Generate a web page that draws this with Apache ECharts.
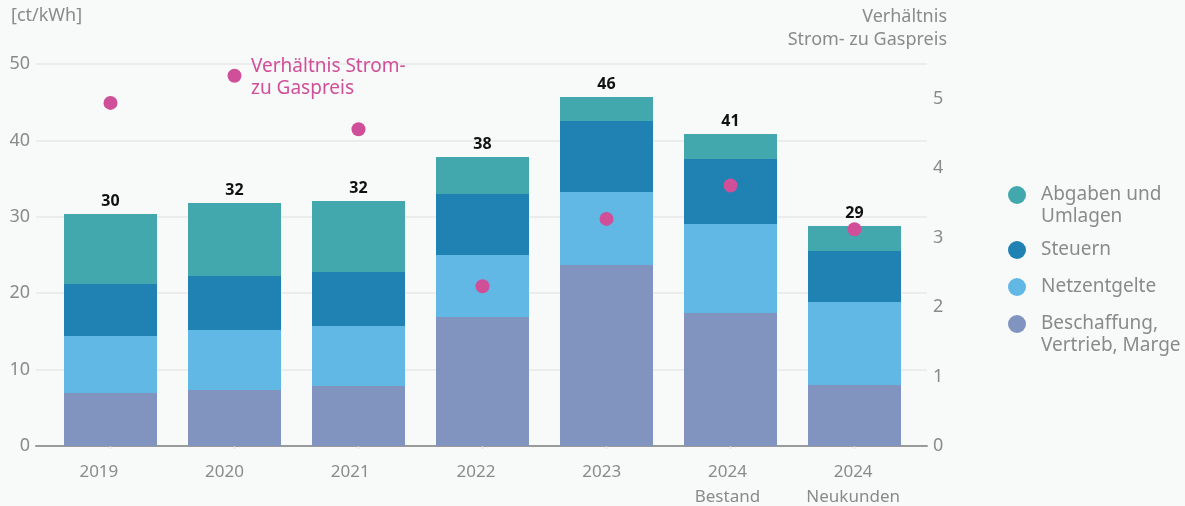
<!DOCTYPE html>
<html>
<head>
<meta charset="utf-8">
<script src="https://cdn.jsdelivr.net/npm/echarts@6/dist/echarts.min.js"></script>
<style>
  html, body { margin: 0; padding: 0; background: #f8fafa; }
  #chart { width: 1185px; height: 506px; }
</style>
</head>
<body>
<div id="chart"></div>
<script>
const categories = ['2019', '2020', '2021', '2022', '2023', '2024\nBestand', '2024\nNeukunden']

// ct/kWh, Stapel von unten nach oben
const beschaffung = [6.94, 7.33, 7.85, 16.88, 23.69, 17.41, 7.98]
const netzentgelte = [7.46, 7.85, 7.85, 8.12, 9.56, 11.65, 10.87]
const steuern = [6.8, 7.07, 7.07, 7.98, 9.29, 8.51, 6.67]
const abgaben = [9.17, 9.55, 9.3, 4.85, 3.14, 3.27, 3.28]

// Verhältnis Strom- zu Gaspreis (rechte Achse)
const verhaeltnis = [4.94, 5.33, 4.56, 2.3, 3.27, 3.75, 3.12]

const leftTicks = { min: 0, max: 50, interval: 10 }
const rightTicks = { min: 0, max: 5.5, interval: 1 }

const totals = categories.map((_, i) => beschaffung[i] + netzentgelte[i] + steuern[i] + abgaben[i])

const font = 'Noto Sans'
const gray = '#8a8a8a'
const pink = '#cf4f99'
const colors = {
  abgaben: '#43a8ae',
  steuern: '#1f82b3',
  netz: '#62b8e4',
  besch: '#8193bf',
}

const chart = echarts.init(document.getElementById('chart'))

function legendAt(top, name, color, text) {
  return {
    left: 1008,
    top: top,
    padding: 0,
    orient: 'vertical',
    selectedMode: false,
    itemWidth: 18,
    itemHeight: 18,
    icon: 'circle',
    data: [{ name: name, itemStyle: { color: color } }],
    formatter: () => text,
    textStyle: { color: gray, fontSize: 19, fontFamily: font, lineHeight: 22, padding: [0, 0, 0, 10] },
  }
}

chart.setOption({
  backgroundColor: '#f8fafa',
  animation: false,
  textStyle: { fontFamily: font },
  title: [
    { text: '[ct/kWh]', left: 6, top: 2, textStyle: { color: gray, fontSize: 18, fontWeight: 'normal', fontFamily: font } },
    {
      text: 'Verhältnis\nStrom- zu Gaspreis',
      left: 942, top: 0, textAlign: 'right',
      textStyle: { color: gray, fontSize: 18, fontWeight: 'normal', fontFamily: font, lineHeight: 23 },
    },
    {
      text: 'Verhältnis Strom-\nzu Gaspreis',
      left: 246, top: 51,
      textStyle: { color: pink, fontSize: 19, fontWeight: 'normal', fontFamily: font, lineHeight: 22 },
    },
  ],
  legend: [
    legendAt(162, 'Abgaben und Umlagen', colors.abgaben, '\nAbgaben und\nUmlagen'),
    legendAt(239, 'Steuern', colors.steuern, 'Steuern'),
    legendAt(276, 'Netzentgelte', colors.netz, 'Netzentgelte'),
    legendAt(291, 'Beschaffung, Vertrieb, Marge', colors.besch, '\nBeschaffung,\nVertrieb, Marge'),
  ],
  grid: [
    { left: 36, right: 258, top: 64, bottom: 60, outerBoundsMode: 'none' },
    { left: 48.5, right: 268.5, top: 64, bottom: 60, outerBoundsMode: 'none' },
    { left: 36, right: 269, top: 64, bottom: 60, outerBoundsMode: 'none' },
  ],
  xAxis: [
    {
      gridIndex: 0, type: 'value', min: 0, max: 1,
      axisLine: { show: true, onZero: false, lineStyle: { color: '#9a9a9a', width: 2 } },
      axisTick: { show: false }, axisLabel: { show: false }, splitLine: { show: false },
    },
    {
      gridIndex: 1, type: 'category', data: categories,
      axisLine: { show: false },
      axisTick: { show: true, alignWithLabel: true, length: 3, lineStyle: { color: '#dddddd' } },
      axisLabel: { show: false },
    },
    {
      gridIndex: 2, type: 'category', data: categories,
      axisLine: { show: false }, axisTick: { show: false },
      axisLabel: { color: gray, fontSize: 17, fontFamily: font, margin: 14, lineHeight: 25 },
    },
  ],
  yAxis: [
    {
      gridIndex: 0, type: 'value', ...leftTicks,
      axisLine: { show: false }, axisTick: { show: false },
      axisLabel: { color: gray, fontSize: 18, fontFamily: font, margin: 6 },
      splitLine: { lineStyle: { color: '#ececec', width: 2 } },
    },
    {
      gridIndex: 0, type: 'value', position: 'right', ...rightTicks,
      axisLine: { show: false }, axisTick: { show: false },
      axisLabel: {
        color: gray, fontSize: 18, fontFamily: font, margin: 6, showMaxLabel: false,
        formatter: (v) => (Number.isInteger(v) ? String(v) : ''),
      },
      splitLine: { show: false },
    },
    { gridIndex: 1, type: 'value', ...leftTicks, show: false },
    { gridIndex: 1, type: 'value', ...rightTicks, show: false },
    { gridIndex: 2, type: 'value', ...leftTicks, show: false },
  ],
  series: [
    {
      name: 'Beschaffung, Vertrieb, Marge', type: 'bar', stack: 'total',
      xAxisIndex: 1, yAxisIndex: 2, barCategoryGap: '25%',
      data: beschaffung, itemStyle: { color: colors.besch },
    },
    {
      name: 'Netzentgelte', type: 'bar', stack: 'total',
      xAxisIndex: 1, yAxisIndex: 2,
      data: netzentgelte, itemStyle: { color: colors.netz },
    },
    {
      name: 'Steuern', type: 'bar', stack: 'total',
      xAxisIndex: 1, yAxisIndex: 2,
      data: steuern, itemStyle: { color: colors.steuern },
    },
    {
      name: 'Abgaben und Umlagen', type: 'bar', stack: 'total',
      xAxisIndex: 1, yAxisIndex: 2,
      data: abgaben, itemStyle: { color: colors.abgaben },
      label: {
        show: true, position: 'top', distance: 5,
        color: '#111', fontSize: 16, fontWeight: 'bold', fontFamily: font,
        formatter: (p) => Math.round(totals[p.dataIndex]),
      },
    },
    {
      name: 'Verhältnis Strom- zu Gaspreis', type: 'scatter',
      xAxisIndex: 1, yAxisIndex: 3, z: 5,
      symbolSize: 14, data: verhaeltnis, itemStyle: { color: pink, opacity: 1 },
    },
  ],
})
</script>
</body>
</html>
